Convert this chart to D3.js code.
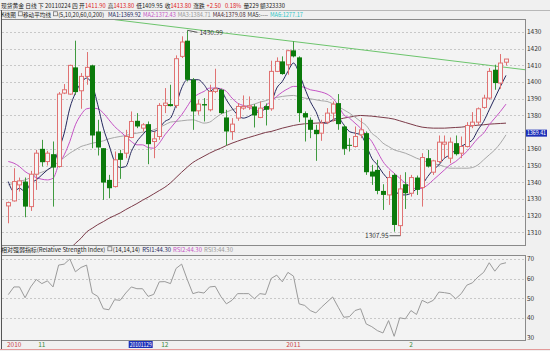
<!DOCTYPE html>
<html>
<head>
<meta charset="utf-8">
<script src="https://cdn.jsdelivr.net/npm/d3@7"></script>
<style>
  body { margin: 0; background: #f0f0f0; }
  svg { display: block; }
  text { font-family: "Noto Sans CJK SC", "DejaVu Sans", sans-serif; white-space: pre; }
</style>
</head>
<body>
<svg id="chart" width="550" height="351"></svg>
<script>
// daily candles, 2010-10-25 .. 2011-02-24 (index based)
const opens = [1325.8,1328.8,1338.4,1340.4,1325.4,1344.8,1360.0,1352.4,1356.8,1349.4,1393.4,1392.8,1408.8,1394.8,1403.4,1410.0,1370.4,1360.4,1341.4,1337.4,1357.4,1357.4,1366.8,1376.8,1372.4,1374.8,1364.4,1367.4,1386.0,1386.8,1386.0,1415.4,1424.8,1401.4,1382.8,1386.8,1383.4,1394.4,1395.4,1378.8,1370.4,1378.4,1384.4,1385.0,1385.4,1378.8,
  1385.6,1384.0,1406.4,1412.4,1410.4,1419.0,1414.8,1381.4,1377.4,1371.4,1369.4,1376.0,1381.4,1387.4,1373.4,1362.4,1361.4,1368.4,1369.4,1346.4,1347.4,1334.8,1332.4,1344.4,1314.0,1338.8,1333.4,1342.8,1336.8,1354.4,1346.0,1352.4,1362.8,1354.4,1363.4,1357.4,1361.4,1374.0,1376.0,1384.8,1390.4,1407.4,1399.4,1411.9];
const highs = [1328.4,1348.4,1342.8,1342.8,1346.8,1359.4,1365.4,1358.8,1364.4,1394.0,1398.8,1410.4,1424.8,1405.4,1418.0,1410.4,1377.4,1360.4,1344.4,1358.4,1359.4,1371.4,1382.4,1381.4,1375.4,1376.4,1370.4,1387.4,1396.4,1398.4,1416.0,1427.4,1430.99,1402.4,1389.4,1390.4,1398.4,1408.0,1396.0,1383.4,1378.4,1387.4,1392.0,1391.4,1386.8,1388.4,
  1387.2,1412.8,1414.8,1415.4,1419.4,1424.4,1415.4,1382.4,1378.8,1374.4,1377.4,1384.4,1388.4,1392.8,1374.4,1366.4,1373.4,1378.4,1370.4,1350.4,1353.4,1338.8,1346.8,1345.4,1344.4,1346.0,1344.4,1344.0,1357.4,1359.4,1353.4,1368.0,1368.0,1366.8,1368.0,1367.4,1376.0,1382.0,1384.8,1392.4,1408.4,1410.4,1416.8,1413.8];
const lows = [1315.4,1328.4,1334.4,1319.0,1322.8,1335.4,1349.4,1350.0,1325.4,1348.8,1392.8,1392.4,1392.4,1384.0,1398.4,1360.4,1356.0,1329.4,1330.4,1336.8,1342.0,1354.4,1366.4,1372.4,1370.4,1350.8,1354.4,1365.4,1381.4,1385.4,1384.4,1414.4,1400.4,1371.4,1380.4,1376.4,1382.4,1393.4,1380.8,1362.0,1365.4,1376.8,1383.4,1383.4,1372.8,1378.4,
  1374.0,1382.8,1406.0,1404.4,1404.4,1414.8,1376.0,1364.4,1366.4,1352.8,1364.8,1374.8,1376.4,1371.4,1356.4,1358.4,1360.8,1366.4,1344.4,1338.4,1332.8,1323.4,1326.4,1310.4,1307.95,1324.0,1331.4,1332.4,1325.4,1348.8,1344.4,1351.4,1354.4,1351.4,1356.0,1354.4,1360.8,1372.4,1374.4,1384.0,1389.4,1395.4,1396.0,1409.95];
const closes = [1327.8,1340.4,1340.8,1325.4,1344.8,1357.4,1352.0,1357.4,1348.8,1392.8,1395.4,1410.0,1394.0,1403.4,1408.8,1368.0,1360.8,1339.8,1336.4,1353.4,1353.4,1367.4,1376.4,1373.4,1374.4,1362.8,1366.0,1386.0,1387.4,1385.6,1414.0,1424.0,1401.4,1382.4,1386.8,1386.0,1394.4,1396.0,1381.4,1370.4,1374.8,1385.4,1385.4,1385.8,1380.0,1384.4,
  1383.4,1406.4,1412.4,1404.8,1418.8,1415.4,1381.4,1378.8,1371.4,1368.8,1375.4,1381.4,1386.8,1374.8,1360.0,1361.8,1367.4,1371.4,1346.0,1343.4,1334.8,1332.4,1342.8,1314.4,1336.0,1333.4,1342.8,1335.4,1354.8,1349.4,1352.8,1364.0,1364.0,1364.0,1356.8,1361.4,1374.0,1376.0,1384.0,1390.4,1406.4,1399.4,1411.4,1413.8];

// moving averages
const ma5 = [1340.4,1334.4,1336.4,1334.4,1339.4,1341.4,1344.4,1347.4,1350.4,1359.4,1369.4,1384.4,1393.4,1399.4,1402.4,1398.4,1386.4,1372.4,1362.4,1352.4,1348.8,1349.4,1358.4,1364.4,1368.4,1371.4,1370.4,1372.4,1376.4,1378.4,1386.4,1396.4,1401.4,1401.4,1401.4,1398.4,1394.4,1396.4,1395.4,1389.4,1384.4,1380.4,1378.4,1379.4,1381.4,1382.4,
  1384.0,1387.4,1396.4,1400.4,1406.4,1411.4,1405.4,1396.4,1388.4,1382.4,1375.4,1375.4,1377.4,1378.4,1374.4,1370.4,1369.4,1368.4,1362.4,1354.4,1350.4,1345.4,1341.4,1336.4,1332.4,1332.4,1333.4,1336.0,1338.4,1343.4,1347.4,1350.4,1354.4,1356.4,1359.4,1361.4,1363.4,1365.4,1371.4,1376.4,1383.4,1390.4,1397.4,1404.0];
const ma10 = [1352.4,1351.4,1349.4,1346.4,1344.4,1342.8,1341.8,1341.4,1342.4,1350.4,1356.4,1364.4,1374.4,1380.4,1384.0,1384.4,1384.0,1381.4,1377.4,1373.4,1370.4,1367.4,1364.4,1362.4,1362.4,1360.8,1360.4,1363.4,1368.4,1372.4,1376.4,1380.4,1385.4,1390.4,1392.8,1394.4,1396.4,1396.4,1396.0,1394.4,1390.4,1387.4,1386.0,1384.8,1383.4,1382.8,
  1386.0,1388.4,1391.4,1394.0,1396.0,1397.4,1397.4,1396.8,1395.4,1394.8,1394.0,1392.8,1390.4,1386.0,1380.4,1378.4,1375.4,1372.4,1368.4,1364.4,1358.4,1352.4,1348.4,1345.4,1342.4,1339.4,1337.4,1336.0,1336.4,1338.4,1341.4,1344.4,1347.4,1350.4,1352.4,1355.4,1358.4,1362.4,1366.4,1369.4,1374.4,1378.4,1382.4,1386.8];
const ma20 = [1338.4,1339.4,1340.4,1341.4,1342.8,1344.8,1346.0,1347.4,1349.4,1352.4,1354.8,1357.4,1359.4,1361.4,1362.4,1363.4,1364.0,1364.8,1366.0,1366.8,1367.4,1368.0,1368.8,1369.4,1370.0,1370.4,1371.4,1372.8,1374.4,1376.0,1376.4,1376.8,1377.2,1377.4,1376.4,1375.4,1376.0,1378.4,1380.8,1382.0,1383.4,1384.4,1385.4,1386.0,1386.8,1388.0,
  1388.8,1390.0,1390.8,1391.4,1391.8,1392.0,1391.2,1390.4,1390.0,1389.4,1388.8,1388.4,1387.0,1385.4,1383.4,1381.4,1379.0,1376.4,1374.0,1369.4,1366.8,1363.4,1361.4,1359.4,1358.4,1357.4,1356.0,1354.4,1353.2,1352.0,1351.2,1350.4,1349.4,1348.4,1348.4,1348.4,1348.4,1348.8,1350.4,1353.4,1356.4,1359.4,1363.4,1368.4];
const ma60 = [null,null,null,null,null,null,null,null,null,null,1296.4,1300.0,1303.4,1306.4,1310.2,1312.4,1314.6,1316.4,1318.4,1320.0,1321.6,1323.6,1325.4,1327.2,1329.2,1331.0,1333.0,1335.0,1337.0,1339.6,1342.8,1346.0,1349.0,1351.8,1353.8,1355.6,1357.4,1359.0,1360.4,1362.0,1363.4,1364.6,1365.8,1366.8,1367.8,1368.8,
  1369.8,1370.4,1371.4,1372.4,1373.2,1374.0,1374.6,1375.0,1375.2,1375.4,1375.6,1376.0,1376.8,1377.6,1378.4,1379.0,1379.6,1380.0,1379.8,1379.6,1379.2,1378.8,1378.4,1377.8,1376.8,1375.8,1374.8,1373.8,1373.0,1372.6,1372.4,1372.4,1372.4,1372.6,1372.8,1373.0,1373.4,1373.8,1374.2,1374.4,1374.8,1375.0,1375.2,1375.4];

// RSI(14)
const rsi = [51.9,55.8,55.8,50.3,55.8,59.6,57.5,58.9,55.8,66.9,67.4,70.0,63.5,65.7,66.9,52.7,51.0,44.7,44.2,49.3,49.0,52.7,55.8,54.9,54.9,51.0,52.0,58.4,58.5,57.5,65.2,67.4,59.6,52.4,53.2,52.7,55.8,56.1,51.0,47.2,49.0,52.4,52.4,52.4,49.8,52.4,52.0,60.1,61.8,
  58.4,63.2,61.3,47.2,46.4,43.8,42.6,45.5,48.1,50.7,45.5,40.4,40.7,43.8,44.7,37.0,35.6,33.6,32.4,38.7,30.7,40.1,39.6,43.8,41.8,49.0,47.6,49.0,53.2,52.9,52.4,49.8,52.4,56.7,57.9,60.9,63.2,68.1,63.8,67.4,68.1];

const priceTicks = [1310,1320,1330,1340,1350,1360,1370,1380,1390,1400,1410,1420,1430];
const rsiTicks = [30,40,50,60,70];
const dateTickIdx = [0,6,28,51,72];
const dateTickLabels = ["2010","11","12","2011","2"];
const cursorIdx = 26, cursorDate = "20101129", cursorPrice = "1369.41";
// trend line through the Dec and Jan highs, as drawn
const trendIdx = [19, 92.4];
const trendVal = [1437.4, 1407.4];

const svg = d3.select("#chart");
const W = 550, H = 351;
const left = 2, right = 525;
const mainTop = 19, mainBot = 245, rsiTop = 255, rsiBot = 340;

svg.append("rect").attr("width", W).attr("height", H).attr("fill", "#f0f0f0");
svg.append("rect").attr("x", left).attr("y", mainTop).attr("width", right - left).attr("height", mainBot - mainTop).attr("fill", "#f3f3f3");
svg.append("rect").attr("x", left).attr("y", rsiTop).attr("width", right - left).attr("height", rsiBot - rsiTop).attr("fill", "#f3f3f3");

const x = d3.scaleLinear().domain([0, 89]).range([8.3, 506]);
const y = d3.scaleLinear().domain([1310, 1430]).range([232.3, 32]);
const yr = d3.scaleLinear().domain([30, 70]).range([337.7, 259]);
const px = i => Math.round(x(i)) + 0.5;

svg.append("clipPath").attr("id", "mainClip")
  .append("rect").attr("x", left).attr("y", mainTop).attr("width", right - left).attr("height", mainBot - mainTop);

// grid
svg.append("g").selectAll("line").data(priceTicks).join("line")
  .attr("x1", left).attr("x2", right)
  .attr("y1", d => Math.round(y(d)) + 0.5).attr("y2", d => Math.round(y(d)) + 0.5)
  .attr("stroke", "#c8c8c8").attr("stroke-dasharray", "2,2");
svg.append("g").selectAll("line").data(rsiTicks.slice(1)).join("line")
  .attr("x1", left).attr("x2", right)
  .attr("y1", d => Math.round(yr(d)) + 0.5).attr("y2", d => Math.round(yr(d)) + 0.5)
  .attr("stroke", "#c8c8c8").attr("stroke-dasharray", "2,2");

const plot = svg.append("g").attr("clip-path", "url(#mainClip)");

// moving averages
const maLines = [[ma60, "#7b3a48"], [ma20, "#a8a8a8"], [ma10, "#c554c5"], [ma5, "#25285e"]];
maLines.forEach(([arr, col]) => {
  plot.append("path")
    .datum(arr.map((v, i) => [i, v]))
    .attr("fill", "none").attr("stroke", col).attr("stroke-width", 1)
    .attr("d", d3.line().defined(d => d[1] != null).x(d => x(d[0])).y(d => y(d[1])).curve(d3.curveMonotoneX));
});

// trend line
plot.append("line")
  .attr("x1", x(trendIdx[0])).attr("y1", y(trendVal[0]))
  .attr("x2", x(trendIdx[1])).attr("y2", y(trendVal[1]))
  .attr("stroke", "#6cc46c").attr("stroke-width", 1);

// candles
const up = i => closes[i] >= opens[i];
const candles = plot.append("g").selectAll("g").data(d3.range(opens.length)).join("g");
candles.append("line")
  .attr("x1", px).attr("x2", px)
  .attr("y1", i => y(highs[i])).attr("y2", i => y(lows[i]))
  .attr("stroke", i => up(i) ? "#e07272" : "#3f9a3f");
candles.append("rect")
  .attr("x", i => up(i) ? px(i) - 2 : px(i) - 2.5)
  .attr("width", i => up(i) ? 4 : 5)
  .attr("y", i => y(Math.max(opens[i], closes[i])))
  .attr("height", i => Math.max(1, Math.abs(y(opens[i]) - y(closes[i]))))
  .attr("fill", i => up(i) ? "#f6f6f6" : "#0b7a0b")
  .attr("stroke", i => up(i) ? "#e07272" : "none");

// high / low notes
const hiIdx = d3.maxIndex(highs), loIdx = d3.minIndex(lows);
plot.append("line").attr("x1", px(hiIdx)).attr("y1", y(highs[hiIdx])).attr("x2", px(hiIdx) + 10).attr("y2", y(highs[hiIdx]) + 2).attr("stroke", "#555");
plot.append("text").attr("x", px(hiIdx) + 12).attr("y", y(highs[hiIdx]) + 5)
  .attr("font-size", 6.5).attr("fill", "#333").text(highs[hiIdx].toFixed(2));
plot.append("line").attr("x1", px(loIdx)).attr("y1", y(lows[loIdx])).attr("x2", px(loIdx) - 11).attr("y2", y(lows[loIdx])).attr("stroke", "#555");
plot.append("text").attr("x", px(loIdx) - 12).attr("y", y(lows[loIdx]) + 2).attr("text-anchor", "end")
  .attr("font-size", 6.5).attr("fill", "#333").text(lows[loIdx].toFixed(2));

// RSI
svg.append("path")
  .datum(rsi)
  .attr("fill", "none").attr("stroke", "#9a9a9a").attr("stroke-width", 1)
  .attr("d", d3.line().x((d, i) => x(i)).y(d => yr(d)));

// frames
const frame = svg.append("g").attr("fill", "none").attr("stroke", "#8a8a8a");
frame.append("rect").attr("x", left - 0.5).attr("y", mainTop + 0.5).attr("width", right - left + 1).attr("height", mainBot - mainTop);
frame.append("rect").attr("x", left - 0.5).attr("y", rsiTop + 0.5).attr("width", right - left + 1).attr("height", rsiBot - rsiTop);
svg.append("line").attr("x1", 0).attr("x2", W).attr("y1", 10.5).attr("y2", 10.5).attr("stroke", "#b8b8b8");
svg.append("line").attr("x1", 0).attr("x2", W).attr("y1", 349.5).attr("y2", 349.5).attr("stroke", "#e49a9a");
svg.append("line").attr("x1", 1.5).attr("x2", 1.5).attr("y1", 10).attr("y2", 349).attr("stroke", "#555");

// right axes (the cursor price box hides the tick under it)
const cy = y(+cursorPrice);
svg.append("g").selectAll("text").data(priceTicks.filter(d => Math.abs(y(d) - cy) > 6)).join("text")
  .attr("x", 527).attr("y", d => y(d) + 2.3)
  .attr("font-size", 6.5).attr("fill", "#333").text(d => d);
svg.append("g").selectAll("text").data(rsiTicks).join("text")
  .attr("x", 527).attr("y", d => yr(d) + 2.3)
  .attr("font-size", 6.5).attr("fill", "#333").text(d => d);
svg.append("rect").attr("x", 526).attr("y", cy - 3.5).attr("width", 21).attr("height", 7).attr("fill", "#1c2fb8");
svg.append("text").attr("x", 527).attr("y", cy + 2.2).attr("font-size", 5.8).attr("fill", "#fff")
  .attr("textLength", 19).attr("lengthAdjust", "spacingAndGlyphs").text(cursorPrice);

// date axis
svg.append("g").selectAll("text").data(dateTickIdx).join("text")
  .attr("x", (d, k) => k === 0 ? 7 : x(d))
  .attr("text-anchor", (d, k) => k === 0 ? "start" : "middle")
  .attr("y", 347).attr("font-size", 6.5)
  .attr("fill", (d, k) => dateTickLabels[k].length > 2 ? "#c44" : "#3a8a3a")
  .text((d, k) => dateTickLabels[k]);
svg.append("rect").attr("x", x(cursorIdx) - 25).attr("y", 341).attr("width", 24).attr("height", 7).attr("fill", "#1c2fb8");
svg.append("text").attr("x", x(cursorIdx) - 24).attr("y", 346.8).attr("font-size", 5.8).attr("fill", "#fff")
  .attr("textLength", 22).attr("lengthAdjust", "spacingAndGlyphs").text(cursorDate);

// header rows: pieces laid out one after another; font shrunk so the row fits the reference width
function row(yy, parts, total) {
  const g = svg.append("g");
  const items = parts.map(([s, c]) => {
    if (s === "box") return { box: true, w: 6 };
    const t = g.append("text").attr("y", yy).attr("font-size", 6.5).attr("fill", c).text(s.trim());
    const pad = s.length - s.trimStart().length, tail = s.length - s.trimEnd().length;
    return { t, pad, tail, w: t.node().getComputedTextLength() };
  });
  const gapW = 2.2;
  const natural = d3.sum(items, d => d.w + ((d.pad || 0) + (d.tail || 0)) * gapW);
  const k = Math.min(1, total / natural);
  let cx = 1;
  items.forEach(d => {
    if (d.box) {
      g.append("rect").attr("x", cx + 0.5).attr("y", yy - 5.2).attr("width", 4).attr("height", 4)
        .attr("fill", "none").attr("stroke", "#666").attr("stroke-width", 0.7);
      cx += d.w * k;
      return;
    }
    cx += d.pad * gapW * k;
    d.t.attr("x", cx).attr("font-size", 6.5 * k);
    cx += d.w * k + d.tail * gapW * k;
  });
}
row(7.5, [["现货黄金 日线 下 20110224 四 开", "#222"], ["1411.90", "#d22"], [" 高", "#222"], ["1413.80", "#d22"],
  [" 低", "#222"], ["1409.95", "#222"], [" 收", "#222"], ["1413.80", "#d22"], [" 涨跌 ", "#222"], ["+2.50", "#d22"],
  [" ", "#222"], ["0.18%", "#d22"], [" 量229 额323330", "#222"]], 284);
row(17, [["K线图 ", "#222"], ["box"], ["移动平均线 ", "#222"], ["box"], ["(5,10,20,60,0,200)  ", "#222"],
  ["MA1:1369.92 ", "#25285e"], ["MA2:1372.43 ", "#c554c5"], ["MA3:1384.71 ", "#999"], ["MA4:1379.08 ", "#4a2a30"],
  ["MA5:---- ", "#333"], ["MA6:1277.17", "#2cc6c6"]], 302);
row(252, [["相对强弱指标(Relative Strength Index) ", "#222"], ["box"], ["(14,14,14) ", "#222"],
  ["RSI1:44.30 ", "#25285e"], ["RSI2:44.30 ", "#c554c5"], ["RSI3:44.30", "#999"]], 232);
</script>
</body>
</html>
